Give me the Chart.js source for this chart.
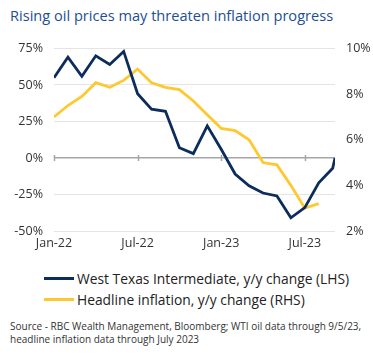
<!DOCTYPE html>
<html>
<head>
<meta charset="utf-8">
<script src="https://cdn.jsdelivr.net/npm/chart.js@4"></script>
<style>
  html, body { margin: 0; padding: 0; background: #fff; }
  body { width: 373px; height: 362px; position: relative; overflow: hidden; font-family: "Open Sans", sans-serif; }
  #title { position: absolute; left: 10px; top: 5px; font-size: 14.6px; color: #1d4f91; white-space: nowrap; }
  #wrap { position: absolute; left: 0; top: 30px; width: 373px; height: 225px; }
  #legend { position: absolute; left: 44px; top: 268px; font-size: 13.8px; color: #222; }
  .item { display: flex; align-items: center; height: 21px; white-space: nowrap; }
  .sw { width: 30px; height: 3px; margin-right: 3px; }
  #source { position: absolute; left: 10px; top: 320px; font-size: 10px; color: #333; line-height: 13px; white-space: nowrap; }
</style>
</head>
<body>
<div id="title">Rising oil prices may threaten inflation progress</div>
<div id="wrap"><canvas id="c"></canvas></div>
<div id="legend"></div>
<div id="source">Source - RBC Wealth Management, Bloomberg; WTI oil data through 9/5/23,<br>headline inflation data through July 2023</div>
<script>
// ---- data ----
const dates = ['2021-12-31','2022-01-31','2022-02-28','2022-03-31','2022-04-30','2022-05-31','2022-06-30',
  '2022-07-31','2022-08-31','2022-09-30','2022-10-31','2022-11-30','2022-12-31','2023-01-31','2023-02-28',
  '2023-03-31','2023-04-30','2023-05-31','2023-06-30','2023-07-31','2023-08-31','2023-09-05'];
const wtiValues = [55, 69, 56, 70, 64, 73, 44, 33.5, 32, 7, 3, 22, 6, -11, -19, -24, -26, -41, -34, -17, -7, 0];
const cpiValues = [7.0, 7.5, 7.9, 8.5, 8.3, 8.6, 9.1, 8.5, 8.3, 8.2, 7.7, 7.1, 6.5, 6.4, 6.0, 5.0, 4.9, 4.0, 3.0, 3.2];
const xTickLabels = ['Jan-22', 'Jul-22', 'Jan-23', 'Jul-23'];
const xTickDates = ['2021-12-31', '2022-06-30', '2022-12-31', '2023-06-30'];
const leftTicks = [-50, -25, 0, 25, 50, 75];
const rightTicks = [2, 4, 6, 8, 10];
const seriesNames = ['West Texas Intermediate, y/y change (LHS)', 'Headline inflation, y/y change (RHS)'];

const NAVY = '#0c2d5c';
const YELLOW = '#fdc830';

function monthPos(s) {
  const [y, m, d] = s.split('-').map(Number);
  const dim = new Date(y, m, 0).getDate();
  return (y - 2022) * 12 + (m - 1) + d / dim;
}
const xs = dates.map(monthPos);
const tickPos = xTickDates.map(monthPos);

const wtiData = wtiValues.map((v, i) => ({ x: xs[i], y: v }));
const cpiData = cpiValues.map((v, i) => ({ x: xs[i], y: v }));

// legend
const legend = document.getElementById('legend');
[[NAVY, seriesNames[0]], [YELLOW, seriesNames[1]]].forEach(([col, name]) => {
  const d = document.createElement('div'); d.className = 'item';
  d.innerHTML = '<span class="sw" style="background:' + col + '"></span><span>' + name + '</span>';
  legend.appendChild(d);
});

const zeroTicks = {
  id: 'zeroTicks',
  beforeDatasetsDraw(chart) {
    const ctx = chart.ctx, x = chart.scales.x, y = chart.scales.y;
    const y0 = y.getPixelForValue(0);
    ctx.save();
    ctx.strokeStyle = '#a6a6a6';
    ctx.lineWidth = 1.5;
    tickPos.forEach(t => {
      const px = Math.round(x.getPixelForValue(t)) + 0.5;
      ctx.beginPath(); ctx.moveTo(px, y0 - 3); ctx.lineTo(px, y0 + 3); ctx.stroke();
    });
    ctx.restore();
  }
};

const font = { family: '"Open Sans", sans-serif', size: 12.5 };
new Chart(document.getElementById('c'), {
  type: 'line',
  data: {
    datasets: [
      { label: seriesNames[0], data: wtiData, yAxisID: 'y', borderColor: NAVY, borderWidth: 2.8, pointRadius: 0, tension: 0, order: 1 },
      { label: seriesNames[1], data: cpiData, yAxisID: 'y2', borderColor: YELLOW, borderWidth: 2.8, pointRadius: 0, tension: 0, order: 2 }
    ]
  },
  options: {
    responsive: true, maintainAspectRatio: false, animation: false,
    layout: { padding: { top: 15, left: 0, right: 0, bottom: 0 } },
    plugins: { legend: { display: false }, tooltip: { enabled: false } },
    scales: {
      x: {
        type: 'linear', min: tickPos[0], max: xs[xs.length - 1],
        afterBuildTicks(s) { s.ticks = tickPos.map(v => ({ value: v })); },
        afterFit(s) { s.height = 24; },
        grid: { display: false, drawTicks: false },
        border: { display: false },
        ticks: { font, color: '#333', padding: 5, maxRotation: 0, autoSkip: false,
          callback(v) { const i = tickPos.indexOf(v); return i >= 0 ? xTickLabels[i] : ''; } }
      },
      y: {
        position: 'left', min: -50, max: 75,
        afterBuildTicks(s) { s.ticks = leftTicks.map(v => ({ value: v })); },
        afterFit(s) { s.width = 54; },
        grid: { drawTicks: false, color: c => c.tick && c.tick.value === 0 ? '#a6a6a6' : '#e4e4e4',
          lineWidth: c => c.tick && c.tick.value === 0 ? 1.5 : 1 },
        border: { display: false },
        ticks: { font, color: '#333', padding: 11, callback: v => v + '%' }
      },
      y2: {
        position: 'right', min: 2, max: 10,
        afterBuildTicks(s) { s.ticks = rightTicks.map(v => ({ value: v })); },
        afterFit(s) { s.width = 38; },
        grid: { display: false, drawTicks: false },
        border: { display: false },
        ticks: { font, color: '#333', padding: 11, callback: v => v + '%' }
      }
    }
  },
  plugins: [zeroTicks]
});
</script>
</body>
</html>
